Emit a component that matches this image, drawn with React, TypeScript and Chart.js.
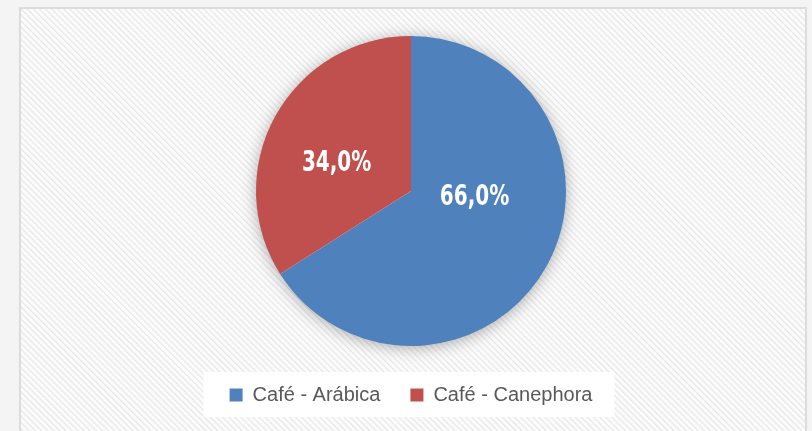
import React, { useEffect, useRef } from "react";
import { Chart, registerables } from "chart.js";

Chart.register(...registerables);

const categories = ["Café - Arábica", "Café - Canephora"];
const shares = [66.0, 34.0];
const sliceColors = ["#4F81BD", "#C0504D"];

const fmt = (v: number) => v.toFixed(1).replace(".", ",") + "%";

const shadowPlugin = {
  id: "pieShadow",
  beforeDatasetsDraw(chart: any) {
    const meta = chart.getDatasetMeta(0);
    const arc = meta.data[0];
    if (!arc) return;
    const { x, y, outerRadius } = arc.getProps(["x", "y", "outerRadius"], true);
    const ctx = chart.ctx;
    ctx.save();
    ctx.shadowColor = "rgba(0,0,0,0.35)";
    ctx.shadowBlur = 16;
    ctx.shadowOffsetX = 0;
    ctx.shadowOffsetY = 2;
    ctx.fillStyle = "#ffffff";
    ctx.beginPath();
    ctx.arc(x, y, outerRadius - 1, 0, Math.PI * 2);
    ctx.fill();
    ctx.restore();
  },
};

// label placement relative to pie centre, in fractions of the radius
const labelOffsets = [
  [0.41, 0.04],
  [-0.48, -0.18],
];

const labelPlugin = {
  id: "sliceLabels",
  afterDatasetsDraw(chart: any) {
    const meta = chart.getDatasetMeta(0);
    const data = chart.data.datasets[0].data as number[];
    const ctx = chart.ctx;
    meta.data.forEach((arc: any, i: number) => {
      const { x, y, outerRadius } = arc.getProps(["x", "y", "outerRadius"], true);
      const lx = x + labelOffsets[i][0] * outerRadius;
      const ly = y + labelOffsets[i][1] * outerRadius;
      ctx.save();
      ctx.translate(lx, ly);
      ctx.scale(0.69, 1);
      ctx.font = 'bold 29px "DejaVu Sans"';
      ctx.fillStyle = "#ffffff";
      ctx.textAlign = "center";
      ctx.textBaseline = "middle";
      ctx.fillText(fmt(data[i]), 0, 0);
      ctx.restore();
    });
  },
};

const legendBgPlugin = {
  id: "legendBg",
  beforeDraw(chart: any) {
    const lg = chart.legend;
    if (!lg || !lg.legendHitBoxes || !lg.legendHitBoxes.length) return;
    const boxes = lg.legendHitBoxes;
    let l = Infinity, r = -Infinity, t = Infinity, b = -Infinity;
    boxes.forEach((h: any) => {
      l = Math.min(l, h.left);
      r = Math.max(r, h.left + h.width);
      t = Math.min(t, h.top);
      b = Math.max(b, h.top + h.height);
    });
    const cy = (t + b) / 2;
    const ctx = chart.ctx;
    ctx.save();
    ctx.fillStyle = "#ffffff";
    ctx.fillRect(l - 26, cy - 23, r - l + 48, 45);
    ctx.restore();
  },
};

export default function App() {
  const ref = useRef<HTMLCanvasElement | null>(null);

  useEffect(() => {
    document.body.style.margin = "0";
    if (!ref.current) return;
    const chart = new Chart(ref.current, {
      type: "pie",
      data: {
        labels: categories,
        datasets: [
          {
            data: shares,
            backgroundColor: sliceColors,
            borderWidth: 0,
            radius: 155,
          } as any,
        ],
      },
      options: {
        animation: false,
        responsive: false,
        maintainAspectRatio: false,
        layout: { padding: { top: 18, bottom: 16, left: 0, right: 4 } },
        plugins: {
          tooltip: { enabled: false },
          legend: {
            position: "bottom",
            labels: {
              boxWidth: 13,
              boxHeight: 13,
              padding: 30,
              color: "#595959",
              font: { family: '"Liberation Sans", Arial, sans-serif', size: 20 },
            },
          },
        },
      },
      plugins: [shadowPlugin, labelPlugin, legendBgPlugin],
    });
    return () => chart.destroy();
  }, []);

  return (
    <div
      style={{
        position: "fixed",
        left: 0,
        top: 0,
        width: 812,
        height: 431,
        background: "#f4f4f4",
        overflow: "hidden",
      }}
    >
      <div
        style={{
          position: "absolute",
          left: 19,
          top: 7,
          width: 788,
          height: 440,
          boxSizing: "border-box",
          border: "2px solid #dcdcdc",
          background:
            "repeating-linear-gradient(45deg, #fbfbfb 0px, #fbfbfb 2px, #e6e6e6 3px, #fbfbfb 4.3px)",
        }}
      >
        <canvas ref={ref} width={784} height={422} style={{ display: "block" }} />
      </div>
    </div>
  );
}
